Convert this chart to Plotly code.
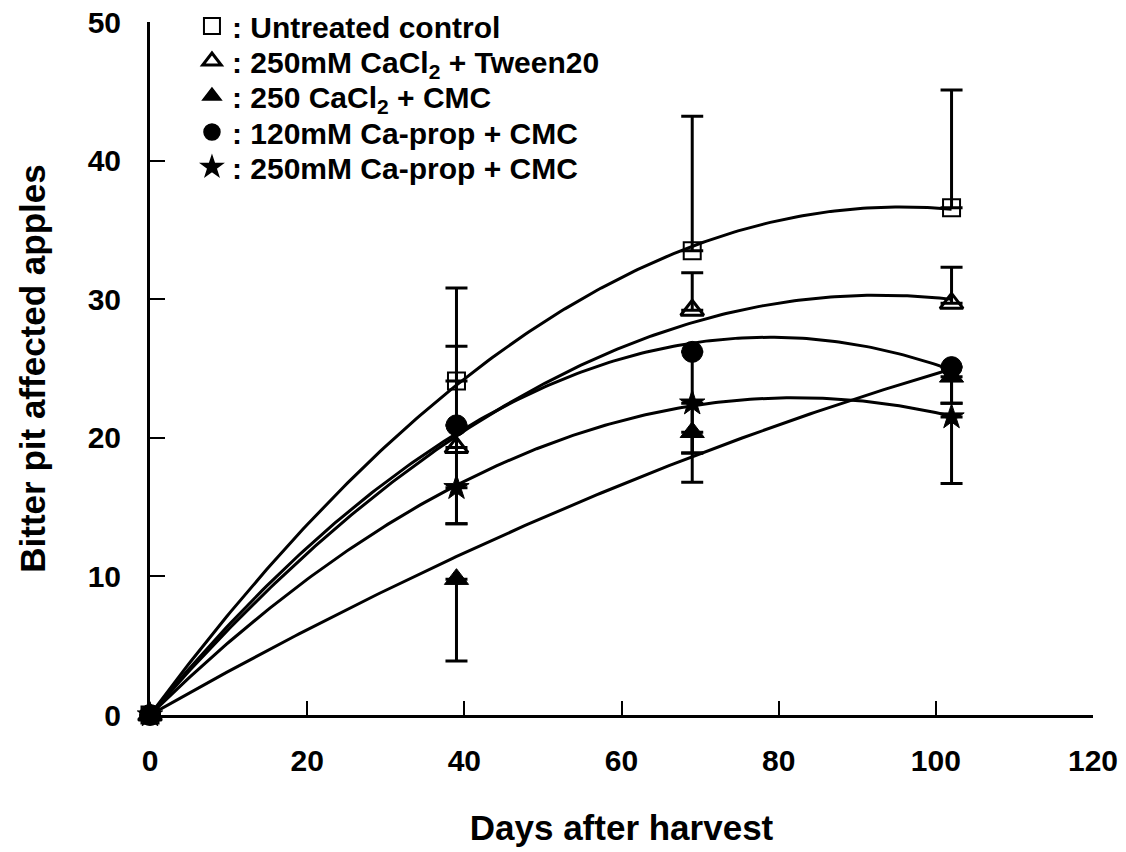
import numpy as np
import plotly.graph_objects as go

days = [0, 39, 69, 102]
untreated = [0, 24.1, 33.5, 36.6]
cacl2_tween = [0, 19.3, 29.2, 29.7]
cacl2_cmc = [0, 9.8, 20.4, 24.4]
caprop120_cmc = [0, 20.9, 26.2, 25.1]
caprop250_cmc = [0, 16.4, 22.5, 21.5]

# one-sided error bars as drawn in the figure (up / down)
untreated_up = [None, 6.7, 9.7, 8.5]
cacl2_tween_up = [None, 7.3, 2.7, 2.6]
cacl2_cmc_down = [None, 5.9, 3.6, 1.9]
caprop120_down = [None, 7.1, 7.3, 2.6]
caprop250_down = [None, 2.6, 3.6, 4.8]

names = [
    ": Untreated control",
    ": 250mM CaCl<sub>2</sub> + Tween20",
    ": 250 CaCl<sub>2</sub> + CMC",
    ": 120mM Ca-prop + CMC",
    ": 250mM Ca-prop + CMC",
]

FONT = "Liberation Sans, Arial, sans-serif"

series = [
    (untreated, untreated_up, None, "square-open", 17, 2),
    (cacl2_tween, cacl2_tween_up, None, "triangle-up-open", 20, 3),
    (cacl2_cmc, None, cacl2_cmc_down, "triangle-up", 21, 1),
    (caprop120_cmc, None, caprop120_down, "circle", 21, 1),
    (caprop250_cmc, None, caprop250_down, "star", 19, 1),
]

fig = go.Figure()

x = np.array(days[1:], dtype=float)
xs = np.linspace(0, max(days), 200)
# fitted polynomial trend curves (2nd order, through origin)
for ys, *_ in series:
    y = np.array(ys[1:], dtype=float)
    A = np.vstack([x, x ** 2]).T
    coef, *_r = np.linalg.lstsq(A, y, rcond=None)
    fig.add_trace(go.Scatter(x=xs, y=coef[0] * xs + coef[1] * xs ** 2, mode="lines",
                             line=dict(color="black", width=3), showlegend=False,
                             hoverinfo="skip"))

for ys, up, down, sym, size, lw in series:
    if up is not None:
        err = dict(type="data", symmetric=False, array=up,
                   arrayminus=[None if v is None else 0 for v in up],
                   color="black", thickness=3, width=11)
    else:
        err = dict(type="data", symmetric=False, arrayminus=down,
                   array=[None if v is None else 0 for v in down],
                   color="black", thickness=3, width=11)
    fig.add_trace(go.Scatter(x=days, y=ys, mode="markers", error_y=err,
                             marker=dict(symbol=sym, size=size, color="black",
                                         line=dict(color="black", width=lw)),
                             showlegend=False, cliponaxis=False))

# one legend per row so that rows can be spaced like the original
row_centers_px = [26, 61, 96, 132, 167]
plot_top, plot_bottom = 22, 715
legend_layouts = {}
for i, ((ys, up, down, sym, size, lw), nm, cy) in enumerate(zip(series, names, row_centers_px)):
    key = "legend" if i == 0 else f"legend{i + 1}"
    fig.add_trace(go.Scatter(x=[None], y=[None], mode="markers", name=nm, legend=key,
                             marker=dict(symbol=sym, size=16, color="black",
                                         line=dict(color="black", width=max(lw, 1.5)))))
    legend_layouts[key] = dict(
        x=0.0445, y=(plot_bottom - cy) / (plot_bottom - plot_top),
        xanchor="left", yanchor="middle",
        font=dict(family=FONT, size=30, color="black", weight="bold"),
        bgcolor="rgba(0,0,0,0)", itemsizing="trace")

fig.update_layout(
    width=1126, height=852,
    margin=dict(l=150, r=33, t=plot_top, b=852 - plot_bottom, autoexpand=False),
    paper_bgcolor="white", plot_bgcolor="white",
    font=dict(family=FONT, color="black"),
    xaxis=dict(range=[0, 120], tickvals=[0, 20, 40, 60, 80, 100, 120],
               showline=True, linecolor="black", linewidth=3, automargin=False,
               ticks="inside", ticklen=14, tickwidth=2, tickcolor="black",
               showgrid=False, zeroline=False, ticklabelstandoff=17,
               tickfont=dict(family=FONT, size=30, weight="bold"),
               title=dict(text="Days after harvest", standoff=40,
                          font=dict(family=FONT, size=35, weight="bold"))),
    yaxis=dict(range=[0, 50], tickvals=[0, 10, 20, 30, 40, 50],
               showline=True, linecolor="black", linewidth=3, automargin=False,
               ticks="inside", ticklen=15, tickwidth=2, tickcolor="black",
               showgrid=False, zeroline=False, ticklabelstandoff=20,
               tickfont=dict(family=FONT, size=30, weight="bold"),
               title=dict(text="Bitter pit affected apples", standoff=32,
                          font=dict(family=FONT, size=35, weight="bold"))),
    **legend_layouts,
)

fig.write_html("out.html", config={"displayModeBar": False},
               post_script="document.body.style.margin='0';")
